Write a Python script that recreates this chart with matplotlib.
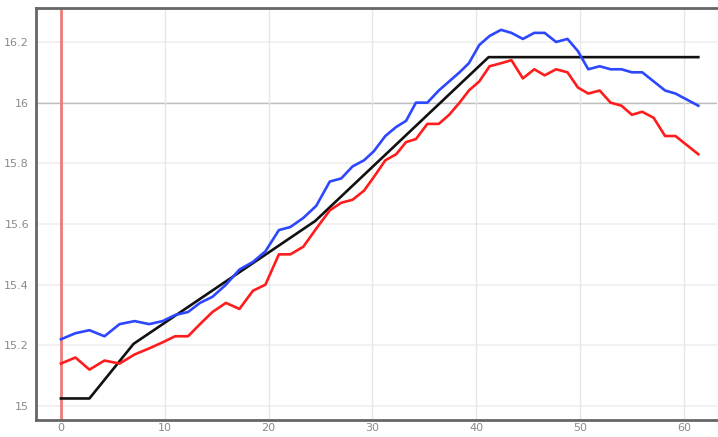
# -*- coding: utf-8 -*-

import numpy as np
import matplotlib
matplotlib.use('Agg')
import matplotlib.pyplot as plt

# sample positions (shared by the blue and red series)
xs = [0, 1.4, 2.75, 4.2, 5.65, 7.1, 8.5, 9.8, 11.0, 12.25, 13.4, 14.6, 15.9, 17.2,
      18.5, 19.7, 21.0, 22.1, 23.35, 24.6, 25.9, 27.0, 28.1, 29.2, 30.15, 31.25,
      32.3, 33.25, 34.2, 35.3, 36.4, 37.4, 38.4, 39.3, 40.3, 41.3, 42.4, 43.4,
      44.5, 45.6, 46.6, 47.7, 48.8, 49.8, 50.8, 51.9, 52.95, 54.0, 55.0, 56.0,
      57.1, 58.2, 59.2, 60.3, 61.4]

blue = [15.22, 15.24, 15.25, 15.23, 15.27, 15.28, 15.27, 15.28, 15.30, 15.31,
        15.34, 15.36, 15.40, 15.45, 15.475, 15.51, 15.58, 15.59, 15.62, 15.66,
        15.74, 15.75, 15.79, 15.81, 15.84, 15.89, 15.92, 15.94, 16.00, 16.00,
        16.04, 16.07, 16.10, 16.13, 16.19, 16.22, 16.24, 16.23, 16.21, 16.23,
        16.23, 16.20, 16.21, 16.17, 16.11, 16.12, 16.11, 16.11, 16.10, 16.10,
        16.07, 16.04, 16.03, 16.01, 15.99]

red = [15.14, 15.16, 15.12, 15.15, 15.14, 15.17, 15.19, 15.21, 15.23, 15.23,
       15.27, 15.31, 15.34, 15.32, 15.38, 15.40, 15.50, 15.50, 15.525, 15.585,
       15.645, 15.67, 15.68, 15.71, 15.755, 15.81, 15.83, 15.87, 15.88, 15.93,
       15.93, 15.96, 16.00, 16.04, 16.07, 16.12, 16.13, 16.14, 16.08, 16.11,
       16.09, 16.11, 16.10, 16.05, 16.03, 16.04, 16.00, 15.99, 15.96, 15.97,
       15.95, 15.89, 15.89, 15.86, 15.83]

# black reference line (break points)
ref_x = [0, 2.75, 7.0, 24.5, 41.2, 61.4]
ref_y = [15.025, 15.025, 15.205, 15.61, 16.15, 16.15]

xticks = [0, 10, 20, 30, 40, 50, 60]
yticks = [15, 15.2, 15.4, 15.6, 15.8, 16, 16.2]
ytick_labels = ['15', '15.2', '15.4', '15.6', '15.8', '16', '16.2']

fig = plt.figure(figsize=(7.18, 4.37), dpi=100)
ax = fig.add_axes([0.0501, 0.0389, 0.9485, 0.9428])

ax.set_xlim(-2.4, 63.2)
ax.set_ylim(14.954, 16.312)

# grid
for yv in yticks:
    ax.axhline(yv, color='#efefef', linewidth=1.2, zorder=0)
ax.axhline(16, color='#bdbdbd', linewidth=1.0, zorder=0)
for xv in xticks[1:]:
    ax.axvline(xv, color='#e6e6e6', linewidth=1.0, zorder=0)
ax.axvline(0, color='#f07a7a', linewidth=2.0, zorder=1)

ax.plot(ref_x, ref_y, color='#111111', linewidth=1.9, zorder=3)
ax.plot(xs, red, color='#ff1c1c', linewidth=1.9, zorder=4)
ax.plot(xs, blue, color='#2d47ff', linewidth=1.9, zorder=5)

ax.set_xticks(xticks)
ax.set_yticks(yticks)
ax.set_yticklabels(ytick_labels)
ax.tick_params(axis='both', length=0, labelsize=8, colors='#8a8a8a')
ax.tick_params(axis='y', pad=5)
ax.tick_params(axis='x', pad=2)

for s in ['left', 'top', 'bottom']:
    ax.spines[s].set_color('#666666')
    ax.spines[s].set_linewidth(2.0)
ax.spines['right'].set_visible(False)

plt.savefig('out.png', dpi=100)
